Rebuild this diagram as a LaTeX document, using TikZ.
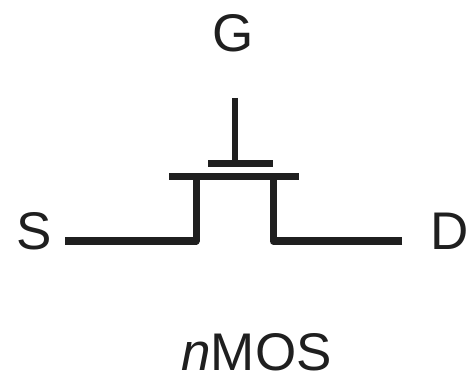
\documentclass[tikz,border=0pt]{standalone}
\usepackage{fontspec}
\setmainfont{Liberation Sans}
\tikzset{lab/.style={inner sep=0pt,anchor=base,font=\fontsize{53}{53}\selectfont,text=black!88}, wire/.style={line width=7pt,draw=black!88}, thin wire/.style={line width=6.5pt,draw=black!88}}
\begin{document}
\begin{tikzpicture}[x=1pt,y=-1pt]
\useasboundingbox (0,0) rectangle (469,377);
\node[lab] (g) at (233,52) {G};
\node[lab] (s) at (34.5,250) {S};
\node[lab] (d) at (450,250) {D};
\node[lab] (n) at (256.5,370.5) {\textit{n}MOS};
\coordinate (gt) at (235,98);
\coordinate (gb) at (235,164);
\coordinate (gl) at (208,164);
\coordinate (gr) at (273,164);
\coordinate (cl) at (169,176.5);
\coordinate (cr) at (299,176.5);
\coordinate (sl) at (65,241);
\coordinate (sc) at (196,241);
\coordinate (st) at (196,176.5);
\coordinate (dr) at (402,241);
\coordinate (dc) at (273,241);
\coordinate (dt) at (273,176.5);
\draw[thin wire] (gt) -- (gb);
\draw[wire] (gl) -- (gr);
\draw[thin wire] (cl) -- (cr);
\draw[wire,line join=round] (sl) -- (sc) -- (st);
\draw[wire,line join=round] (dr) -- (dc) -- (dt);
\end{tikzpicture}
\end{document}
